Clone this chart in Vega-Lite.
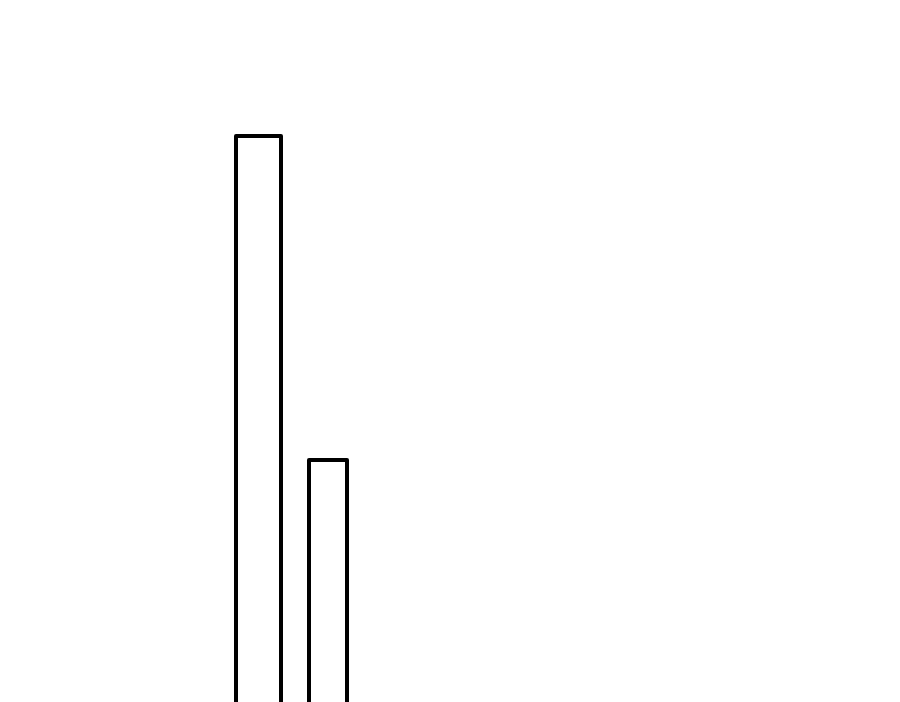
{
  "$schema": "https://vega.github.io/schema/vega-lite/v6.json",
  "autosize": {"type": "fit", "contains": "padding"},
  "width": 900,
  "height": 702,
  "padding": 0,
  "background": "white",
  "config": {"view": {"stroke": null}},
  "data": {
    "values": [
      {"name": "A", "start": 236, "end": 281, "value": 566},
      {"name": "B", "start": 309, "end": 347, "value": 242}
    ]
  },
  "mark": {
    "type": "bar",
    "fill": "white",
    "stroke": "black",
    "strokeWidth": 4,
    "strokeJoin": "round",
    "clip": true
  },
  "encoding": {
    "x": {"field": "start", "type": "quantitative", "scale": {"domain": [0, 900], "nice": false, "zero": false}, "axis": null},
    "x2": {"field": "end"},
    "y": {"field": "value", "type": "quantitative", "scale": {"domain": [0, 702], "nice": false}, "axis": null},
    "y2": {"datum": -20}
  }
}
